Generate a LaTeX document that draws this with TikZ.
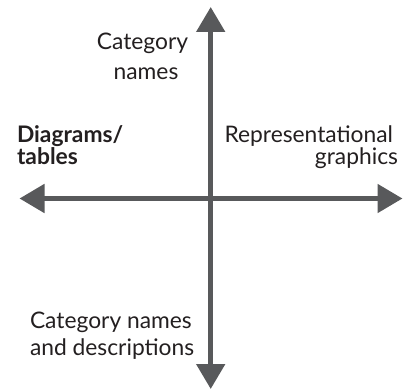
\documentclass[tikz,border=0pt]{standalone}
\usepackage{fontspec}
\setmainfont{Lato}
\usetikzlibrary{arrows.meta}
\definecolor{axisgray}{HTML}{58595B}
\definecolor{txt}{HTML}{231F20}
\begin{document}
\begin{tikzpicture}[x=1pt,y=-1pt,
  axis/.style={draw=axisgray,fill=axisgray,line width=5pt,{Triangle[length=25pt,width=28pt]}-{Triangle[length=25pt,width=28pt]}},
  lbl/.style={inner sep=0pt,outer sep=0pt,text=txt,font=\fontsize{22.8}{27}\selectfont}]
\useasboundingbox (0,0) rectangle (403,390);
\coordinate (L) at (19.5,198.5);
\coordinate (R) at (402.5,198.5);
\coordinate (T) at (210.7,7);
\coordinate (B) at (210.7,389);
\draw[axis] (L) -- (R);
\draw[axis] (T) -- (B);
\node[lbl,anchor=base] (cat1) at (142.5,50) {Category};
\node[lbl,anchor=base] (cat2) at (146,80) {names};
\node[lbl,anchor=base west,font=\fontsize{22.8}{27}\selectfont\bfseries] (dia1) at (17,142.5) {Diagrams/};
\node[lbl,anchor=base west,font=\fontsize{22.8}{27}\selectfont\bfseries] (dia2) at (17,164.5) {tables};
\node[lbl,anchor=base east] (rep1) at (393,142.5) {Representational};
\node[lbl,anchor=base east] (rep2) at (398,164.5) {graphics};
\node[lbl,anchor=base west] (cd1) at (30,328) {Category names};
\node[lbl,anchor=base west] (cd2) at (30,355) {and descriptions};
\end{tikzpicture}
\end{document}
